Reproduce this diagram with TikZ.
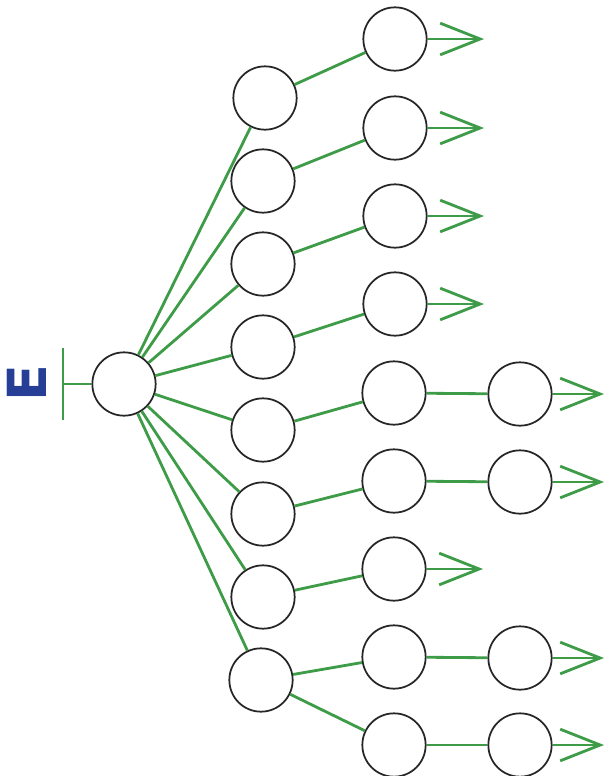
\documentclass[tikz,border=0pt]{standalone}
\usepackage{fontspec}
\usepackage{tikz}
\usetikzlibrary{arrows.meta}
\newfontfamily\letterfont{DejaVu Sans}
\definecolor{wiregreen}{RGB}{62,156,72}
\definecolor{letterblue}{RGB}{38,62,150}

\begin{document}
\begin{tikzpicture}[x=0.03cm,y=-0.03cm,
    >={Straight Barb[length=1.2cm,width=0.95cm]},
    cell/.style={circle,draw=black!85,line width=1.5pt,fill=white,minimum size=1.9cm,inner sep=0pt},
    wire/.style={draw=wiregreen,line width=2.4pt}]
  \useasboundingbox (0,0) rectangle (606,776);

  % source
  \node[text=letterblue,font=\letterfont\bfseries\fontsize{46}{46}\selectfont,rotate=90] (lbl) at (27,383) {E};
  \coordinate (bartop) at (63,348);
  \coordinate (barbot) at (63,420);
  \coordinate (bar) at (63,384);
  \node[cell] (root) at (124,384) {};

  % first level
  \node[cell] (a1) at (265,98) {};
  \node[cell] (a2) at (263,181) {};
  \node[cell] (a3) at (263,264) {};
  \node[cell] (a4) at (263,347) {};
  \node[cell] (a5) at (263,430) {};
  \node[cell] (a6) at (263,514) {};
  \node[cell] (a7) at (263,597) {};
  \node[cell] (a8) at (261,680) {};

  % second level
  \node[cell] (b1) at (395,39) {};
  \node[cell] (b2) at (395,128) {};
  \node[cell] (b3) at (395,216) {};
  \node[cell] (b4) at (395,304) {};
  \node[cell] (b5) at (394,393) {};
  \node[cell] (b6) at (394,481) {};
  \node[cell] (b7) at (394,569) {};
  \node[cell] (b8) at (394,657) {};
  \node[cell] (b9) at (394,745) {};

  % third level
  \node[cell] (c5) at (520,394) {};
  \node[cell] (c6) at (520,482) {};
  \node[cell] (c8) at (520,658) {};
  \node[cell] (c9) at (520,745) {};

  % arrow ends
  \coordinate (t1) at (484,39);
  \coordinate (t2) at (484,128);
  \coordinate (t3) at (484,216);
  \coordinate (t4) at (484,304);
  \coordinate (t7) at (483,569);
  \coordinate (t5) at (604,394);
  \coordinate (t6) at (604,482);
  \coordinate (t8) at (604,658);
  \coordinate (t9) at (604,745);

  \draw[wire] (bartop) -- (barbot);
  \draw[wire] (bar) -- (root);

  \draw[wire] (root) -- (a1);
  \draw[wire] (root) -- (a2);
  \draw[wire] (root) -- (a3);
  \draw[wire] (root) -- (a4);
  \draw[wire] (root) -- (a5);
  \draw[wire] (root) -- (a6);
  \draw[wire] (root) -- (a7);
  \draw[wire] (root) -- (a8);

  \draw[wire] (a1) -- (b1);
  \draw[wire] (a2) -- (b2);
  \draw[wire] (a3) -- (b3);
  \draw[wire] (a4) -- (b4);
  \draw[wire] (a5) -- (b5);
  \draw[wire] (a6) -- (b6);
  \draw[wire] (a7) -- (b7);
  \draw[wire] (a8) -- (b8);
  \draw[wire] (a8) -- (b9);

  \draw[wire] (b5) -- (c5);
  \draw[wire] (b6) -- (c6);
  \draw[wire] (b8) -- (c8);
  \draw[wire] (b9) -- (c9);

  \draw[wire,->] (b1) -- (t1);
  \draw[wire,->] (b2) -- (t2);
  \draw[wire,->] (b3) -- (t3);
  \draw[wire,->] (b4) -- (t4);
  \draw[wire,->] (b7) -- (t7);
  \draw[wire,->] (c5) -- (t5);
  \draw[wire,->] (c6) -- (t6);
  \draw[wire,->] (c8) -- (t8);
  \draw[wire,->] (c9) -- (t9);
\end{tikzpicture}
\end{document}
